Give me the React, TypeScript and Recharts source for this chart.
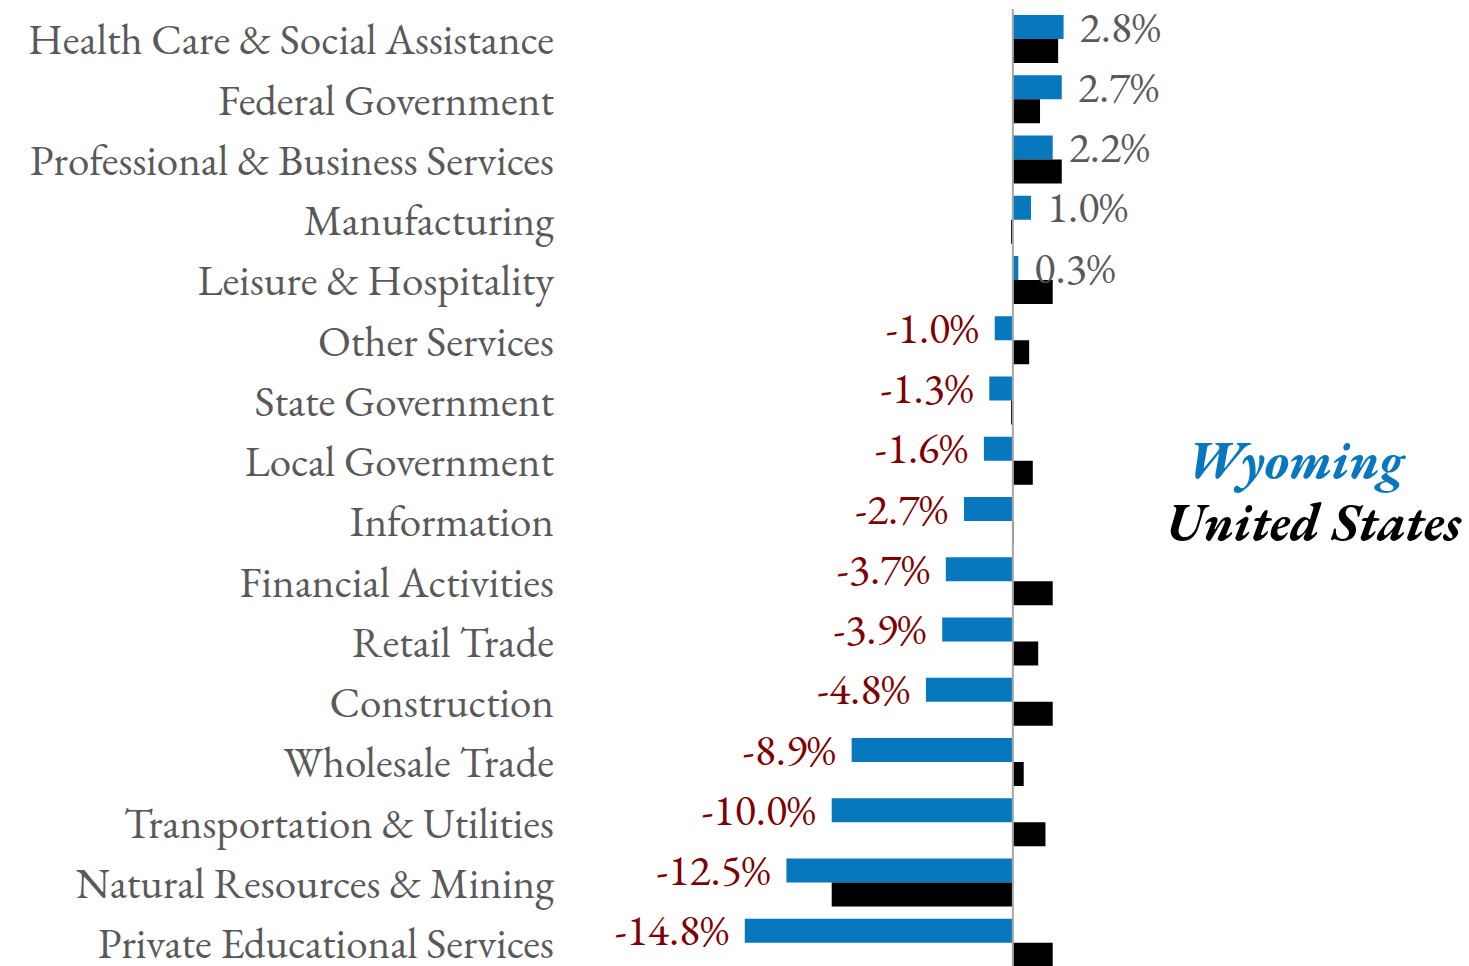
import { Bar, BarChart, LabelList, ReferenceLine, XAxis, YAxis } from "recharts";

const industries = [
  "Health Care & Social Assistance",
  "Federal Government",
  "Professional & Business Services",
  "Manufacturing",
  "Leisure & Hospitality",
  "Other Services",
  "State Government",
  "Local Government",
  "Information",
  "Financial Activities",
  "Retail Trade",
  "Construction",
  "Wholesale Trade",
  "Transportation & Utilities",
  "Natural Resources & Mining",
  "Private Educational Services",
];

const wyoming = [2.8, 2.7, 2.2, 1.0, 0.3, -1.0, -1.3, -1.6, -2.7, -3.7, -3.9, -4.8, -8.9, -10.0, -12.5, -14.8];
const unitedStates = [2.5, 1.5, 2.7, -0.1, 2.2, 0.9, -0.1, 1.1, 0.05, 2.2, 1.4, 2.2, 0.6, 1.8, -10.0, 2.2];

const data = industries.map((name, i) => ({
  name,
  wy: wyoming[i],
  us: unitedStates[i],
}));

const serif = "Garamond, 'EB Garamond', 'Liberation Serif', serif";
const blue = "#0778bd";

function ValueLabel(props: any) {
  const { x, y, width, height, value } = props;
  const a = Number(x);
  const b = Number(x) + Number(width);
  const neg = value < 0;
  const end = neg ? Math.min(a, b) : Math.max(a, b);
  return (
    <text
      x={neg ? end - 16 : end + 16}
      y={Number(y) + Number(height) / 2}
      dy="0.33em"
      textAnchor={neg ? "end" : "start"}
      fill={neg ? "#7f0000" : "#595959"}
      fontSize={44}
      fontFamily={serif}
    >
      {value.toFixed(1) + "%"}
    </text>
  );
}

export default function App() {
  return (
    <div style={{ position: "absolute", left: 0, top: 0, width: 1469, height: 966, overflow: "hidden", background: "#fff" }}>
      <BarChart
        width={1469}
        height={980}
        data={data}
        layout="vertical"
        barSize={24}
        barGap={0}
        margin={{ top: 9, right: 275, bottom: 7, left: 0 }}
      >
        <XAxis type="number" domain={[-25, 10]} hide allowDataOverflow />
        <YAxis
          type="category"
          dataKey="name"
          width={560}
          axisLine={false}
          tickLine={false}
          interval={0}
          tickMargin={0}
          tick={{ fill: "#595959", fontSize: 43, fontFamily: serif }}
        />
        <Bar dataKey="wy" fill={blue} isAnimationActive={false}>
          <LabelList dataKey="wy" content={ValueLabel} />
        </Bar>
        <Bar dataKey="us" fill="#000" isAnimationActive={false} />
        <ReferenceLine x={0} stroke="#a6a6a6" strokeWidth={2} />
      </BarChart>
      <div
        style={{
          position: "absolute",
          left: 1166,
          top: 429,
          fontFamily: serif,
          fontWeight: "bold",
          fontStyle: "italic",
          fontSize: 52,
          lineHeight: "62px",
          whiteSpace: "nowrap",
        }}
      >
        <div style={{ color: blue, paddingLeft: 21 }}>Wyoming</div>
        <div style={{ color: "#000" }}>United States</div>
      </div>
    </div>
  );
}
